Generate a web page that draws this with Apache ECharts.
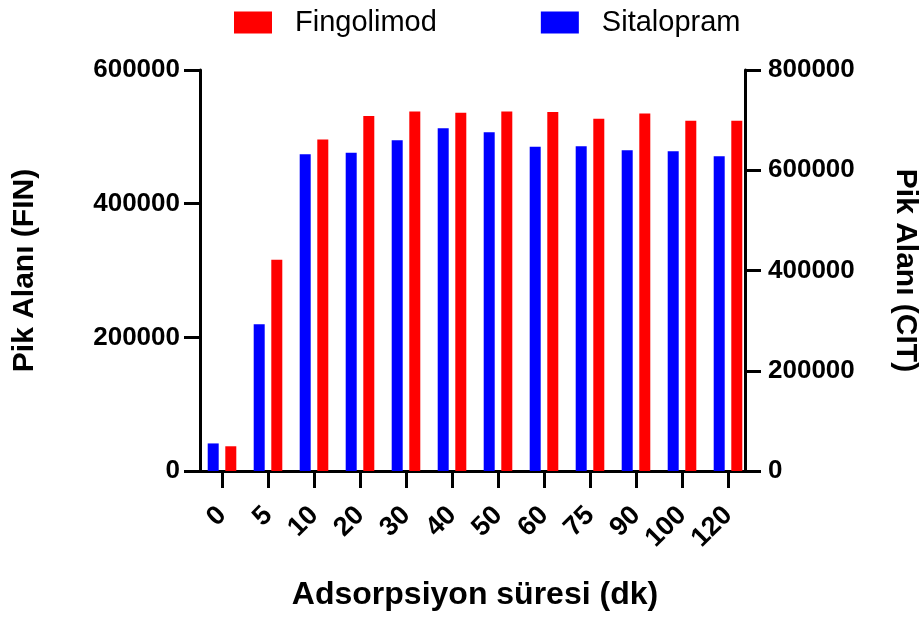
<!DOCTYPE html>
<html>
<head>
<meta charset="utf-8">
<title>Pik Alanı</title>
<script src="https://cdn.jsdelivr.net/npm/echarts@6/dist/echarts.min.js"></script>
<style>
    html, body { margin: 0; padding: 0; background: #fff; }
    #chart { width: 920px; height: 621px; }
</style>
</head>
<body>
<div id="chart"></div>
<script>
    // x categories (dk)
    var categories = ['0', '5', '10', '20', '30', '40', '50', '60', '75', '90', '100', '120'];
    // Fingolimod -> left axis (FIN)
    var fingolimod = [37000, 316000, 496000, 531000, 538000, 536000, 538000, 537000, 527000, 535000, 524000, 524000];
    // Sitalopram -> right axis (CIT)
    var sitalopram = [55000, 293000, 632000, 635000, 660000, 684000, 676000, 647000, 648000, 640000, 638000, 628000];
    var leftTicks = [0, 200000, 400000, 600000];
    var rightTicks = [0, 200000, 400000, 600000, 800000];

    var font = "'Liberation Sans', Arial, sans-serif";
    var black = '#000';
    var titleStyle = { color: black, fontFamily: font, fontWeight: 'bold', fontSize: 30 };

    function plain(v) { return String(v); } // no thousands separator

    function axisStyle(min, max, ticks, pos, extra) {
        var ax = {
            type: 'value',
            gridIndex: 1,
            position: pos,
            min: min,
            max: max,
            interval: ticks[1] - ticks[0],
            axisLine: { show: true, lineStyle: { color: black, width: 3 } },
            axisTick: { show: true, length: 16, lineStyle: { color: black, width: 3 } },
            splitLine: { show: false }
        };
        for (var k in extra) ax[k] = extra[k];
        return ax;
    }

    var chart = echarts.init(document.getElementById('chart'));
    var option = {
        animation: false,
        backgroundColor: '#fff',
        legend: {
            data: ['Fingolimod', 'Sitalopram'],
            left: 234,
            top: 8,
            padding: 0,
            itemWidth: 38,
            itemHeight: 22,
            itemGap: 104,
            icon: 'rect',
            textStyle: { color: black, fontFamily: font, fontSize: 29, padding: [0, 0, 0, 18] }
        },
        grid: [
            { left: 199, right: 169, top: 70, bottom: 150, outerBoundsMode: 'none' }, // bars
            { left: 200, right: 175, top: 70, bottom: 150, outerBoundsMode: 'none' }  // visible frame
        ],
        xAxis: [
            {
                type: 'category',
                gridIndex: 0,
                data: categories,
                axisLine: { show: false },
                axisTick: { show: true, interval: 0, alignWithLabel: true, length: 17, lineStyle: { color: black, width: 3 } },
                axisLabel: { interval: 0, rotate: 45, margin: 40, color: black, fontFamily: font, fontWeight: 'bold', fontSize: 27 },
                name: 'Adsorpsiyon süresi (dk)',
                nameLocation: 'middle',
                nameGap: 108,
                nameTextStyle: { color: black, fontFamily: font, fontWeight: 'bold', fontSize: 32 }
            },
            {
                type: 'value',
                gridIndex: 1,
                min: 0,
                max: 1,
                axisLine: { show: true, lineStyle: { color: black, width: 3 } },
                axisTick: { show: false },
                axisLabel: { show: false },
                splitLine: { show: false }
            }
        ],
        yAxis: [
            { type: 'value', gridIndex: 0, min: 0, max: 600000, show: false },
            { type: 'value', gridIndex: 0, min: 0, max: 800000, show: false },
            axisStyle(0, 600000, leftTicks, 'left', {
                axisLabel: { margin: 20, formatter: plain, color: black, fontFamily: font, fontWeight: 'bold', fontSize: 26 },
                name: 'Pik Alanı (FIN)',
                nameLocation: 'middle',
                nameGap: 160,
                nameTextStyle: titleStyle
            }),
            axisStyle(0, 800000, rightTicks, 'right', {
                axisLabel: { margin: 23, formatter: plain, color: black, fontFamily: font, fontWeight: 'bold', fontSize: 26 },
                name: 'Pik Alanı (CIT)',
                nameLocation: 'middle',
                nameRotate: -90,
                nameGap: 145,
                nameTextStyle: titleStyle
            })
        ],
        series: [
            {
                name: 'Sitalopram',
                type: 'bar',
                xAxisIndex: 0,
                yAxisIndex: 1,
                barWidth: 11,
                barGap: '60%',
                itemStyle: { color: '#0000ff' },
                data: sitalopram
            },
            {
                name: 'Fingolimod',
                type: 'bar',
                xAxisIndex: 0,
                yAxisIndex: 0,
                barWidth: 11,
                barGap: '60%',
                itemStyle: { color: '#ff0000' },
                data: fingolimod
            }
        ]
    };
    chart.setOption(option);
</script>
</body>
</html>
